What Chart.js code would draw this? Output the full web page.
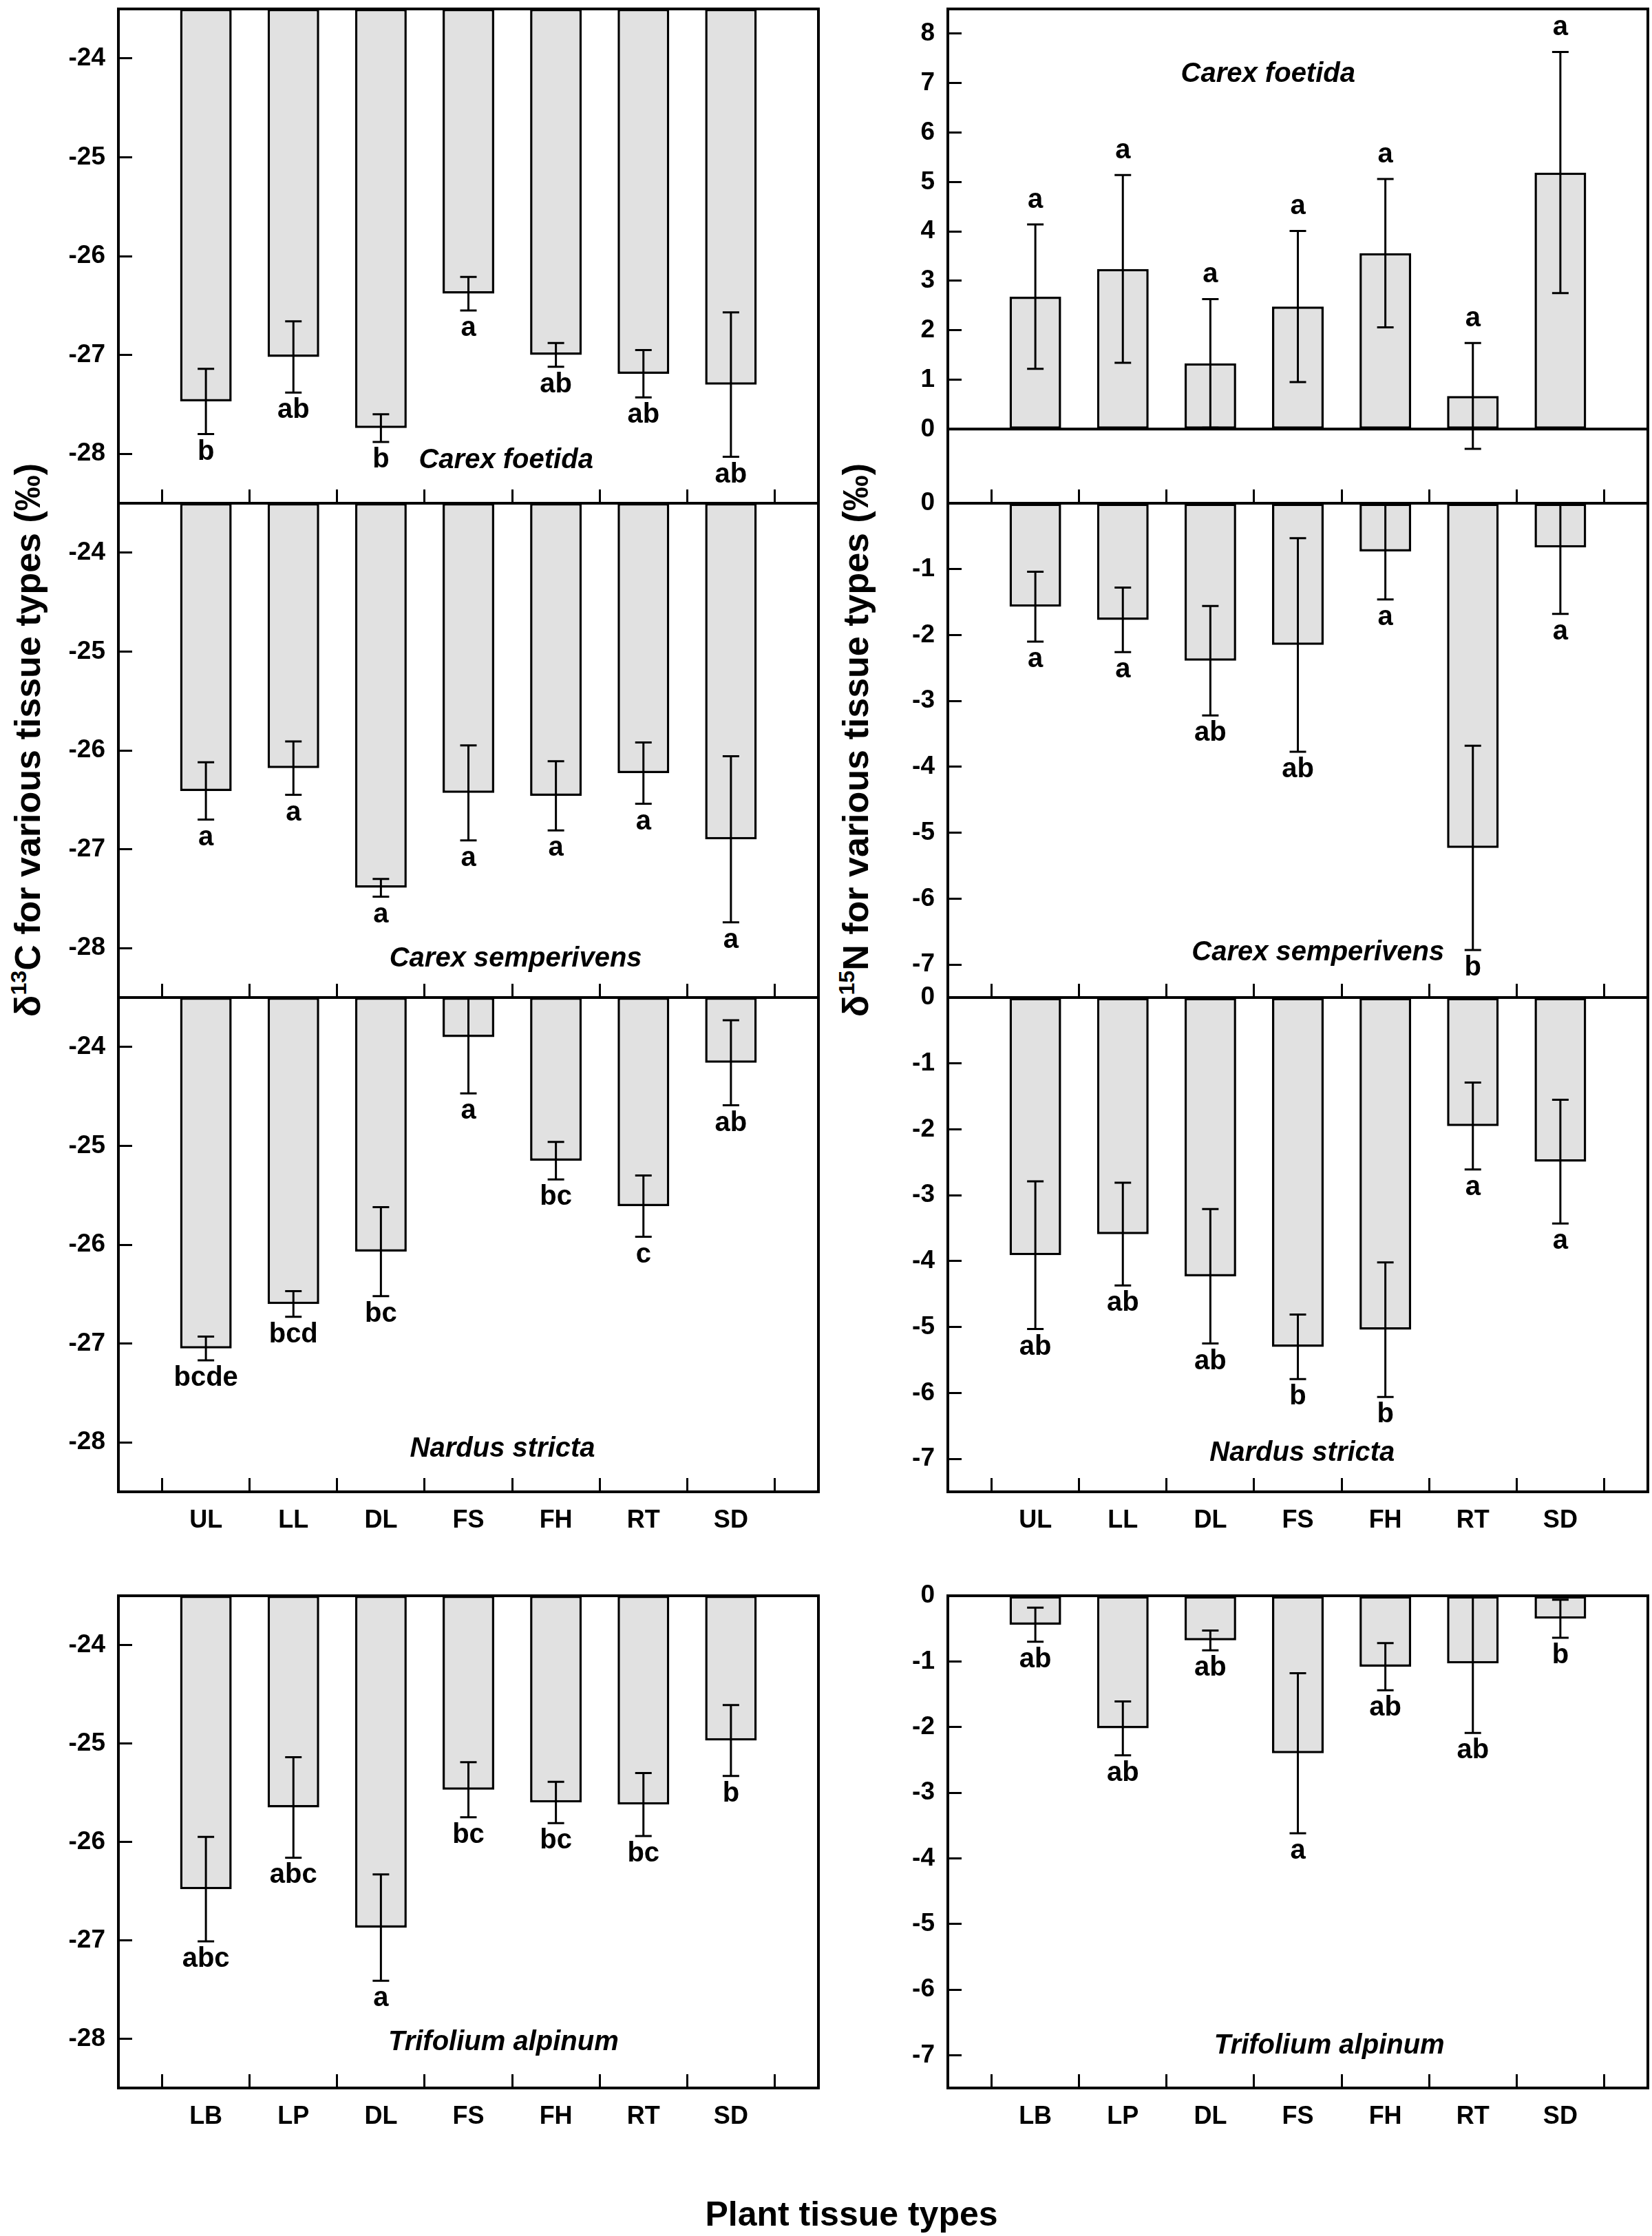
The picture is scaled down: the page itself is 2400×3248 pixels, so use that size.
<!DOCTYPE html>
<html>
<head>
<meta charset="utf-8">
<script src="https://cdn.jsdelivr.net/npm/chart.js@4.4.0/dist/chart.umd.min.js"></script>
<style>
  html, body { margin: 0; padding: 0; background: #fff; }
  #fig { position: relative; width: 2400px; height: 3248px; overflow: hidden;
         font-family: 'Liberation Sans', Arial, sans-serif; color: #000; }
  #fig canvas { position: absolute; }
  .ytitle { position: absolute; white-space: nowrap; font-weight: bold; font-size: 52px;
            transform: translate(-50%, -50%) rotate(-90deg); }
  .ytitle sup { font-size: 0.62em; vertical-align: 0.62em; line-height: 0; }
  #xtitle { position: absolute; left: 1237px; top: 3216px; transform: translate(-50%, -50%);
            font-weight: bold; font-size: 50px; white-space: nowrap; }
</style>
</head>
<body>
<div id="fig">
  <div class="ytitle" style="left:40px; top:1075px">&delta;<sup>13</sup>C for various tissue types (&permil;)</div>
  <div class="ytitle" style="left:1243px; top:1075px">&delta;<sup>15</sup>N for various tissue types (&permil;)</div>
  <div id="xtitle">Plant tissue types</div>
</div>
<script>
// --- dados ---
const tissuesGrass = ['UL', 'LL', 'DL', 'FS', 'FH', 'RT', 'SD'];
const tissuesTrifolium = ['LB', 'LP', 'DL', 'FS', 'FH', 'RT', 'SD'];

const c13Ticks = [-24, -25, -26, -27, -28];
const n15TicksTop = [0, 1, 2, 3, 4, 5, 6, 7, 8];
const n15Ticks = [0, -1, -2, -3, -4, -5, -6, -7];

// delta 13C (media, erro padrao, letras)
const c13Foetida = [-27.47, -27.02, -27.74, -26.38, -27.00, -27.19, -27.30];
const c13FoetidaSE = [0.33, 0.36, 0.14, 0.17, 0.12, 0.24, 0.73];
const c13FoetidaSig = ['b', 'ab', 'b', 'a', 'ab', 'ab', 'ab'];

const c13Semper = [-26.41, -26.18, -27.39, -26.43, -26.46, -26.23, -26.90];
const c13SemperSE = [0.29, 0.27, 0.09, 0.48, 0.35, 0.31, 0.84];
const c13SemperSig = ['a', 'a', 'a', 'a', 'a', 'a', 'a'];

const c13Nardus = [-27.05, -26.60, -26.07, -23.90, -25.15, -25.61, -24.16];
const c13NardusSE = [0.12, 0.13, 0.45, 0.57, 0.19, 0.31, 0.43];
const c13NardusSig = ['bcde', 'bcd', 'bc', 'a', 'bc', 'c', 'ab'];

const c13Trifolium = [-26.48, -25.65, -26.87, -25.47, -25.60, -25.62, -24.97];
const c13TrifoliumSE = [0.53, 0.51, 0.54, 0.28, 0.21, 0.32, 0.36];
const c13TrifoliumSig = ['abc', 'abc', 'a', 'bc', 'bc', 'bc', 'b'];

// delta 15N
const n15Foetida = [2.68, 3.24, 1.33, 2.48, 3.56, 0.67, 5.19];
const n15FoetidaSE = [1.46, 1.90, 1.30, 1.53, 1.50, 1.07, 2.44];
const n15FoetidaSig = ['a', 'a', 'a', 'a', 'a', 'a', 'a'];

const n15Semper = [-1.57, -1.77, -2.39, -2.15, -0.73, -5.23, -0.67];
const n15SemperSE = [0.53, 0.49, 0.83, 1.62, 0.73, 1.55, 1.01];
const n15SemperSig = ['a', 'a', 'ab', 'ab', 'a', 'b', 'a'];

const n15Nardus = [-3.91, -3.59, -4.23, -5.30, -5.04, -1.95, -2.49];
const n15NardusSE = [1.12, 0.78, 1.02, 0.49, 1.02, 0.66, 0.94];
const n15NardusSig = ['ab', 'ab', 'ab', 'b', 'b', 'a', 'a'];

const n15Trifolium = [-0.44, -2.02, -0.68, -2.40, -1.08, -1.03, -0.35];
const n15TrifoliumSE = [0.26, 0.41, 0.15, 1.22, 0.36, 1.06, 0.29];
const n15TrifoliumSig = ['ab', 'ab', 'ab', 'a', 'ab', 'ab', 'b'];

// --- layout ---
const FONT = "'Liberation Sans', Arial, sans-serif";
Chart.defaults.font.family = FONT;
Chart.defaults.color = '#000';

const FRAME_W = 1017, AXW = 170, PAD = 4, TOP_PAD = 30;
const ROW_TOP = [13, 731, 1449, 2318];
const ROW_H = [718, 718, 718, 715];
const COL_X = [172, 1377];
const fig = document.getElementById('fig');

// barras de erro, letras, nome da especie e moldura
function panelExtras(cfg) {
    return {
        id: 'panelExtras',
        afterDatasetsDraw(chart) {
            const { ctx, chartArea: a, scales: { x, y } } = chart;
            ctx.save();
            ctx.strokeStyle = '#000';
            ctx.fillStyle = '#000';

            // linha do zero dentro do painel
            if (y.min < 0 && y.max > 0) {
                const y0 = y.getPixelForValue(0);
                ctx.lineWidth = 4;
                ctx.beginPath();
                ctx.moveTo(a.left, y0);
                ctx.lineTo(a.right, y0);
                ctx.stroke();
            }

            ctx.lineWidth = 3;
            ctx.font = 'bold 40px ' + FONT;
            ctx.textAlign = 'center';
            cfg.values.forEach((v, i) => {
                const px = x.getPixelForValue(i + 1);
                let hi = y.getPixelForValue(v + cfg.se[i]);
                let lo = y.getPixelForValue(v - cfg.se[i]);
                const hiCut = hi < a.top, loCut = lo > a.bottom;
                if (hiCut) hi = a.top;
                if (loCut) lo = a.bottom;
                ctx.beginPath();
                ctx.moveTo(px, hi);
                ctx.lineTo(px, lo);
                if (!hiCut) { ctx.moveTo(px - 12, hi); ctx.lineTo(px + 12, hi); }
                if (!loCut) { ctx.moveTo(px - 12, lo); ctx.lineTo(px + 12, lo); }
                ctx.stroke();

                if (cfg.sigUp) {
                    ctx.textBaseline = 'alphabetic';
                    ctx.fillText(cfg.sig[i], px, hi - 24);
                } else {
                    ctx.textBaseline = 'top';
                    ctx.fillText(cfg.sig[i], px, lo + 6);
                }
            });

            ctx.font = 'italic bold 40px ' + FONT;
            ctx.textBaseline = 'middle';
            ctx.fillText(cfg.species, x.getPixelForValue(cfg.speciesAt[0]), y.getPixelForValue(cfg.speciesAt[1]));

            ctx.lineWidth = 4;
            ctx.strokeRect(a.left, a.top, a.right - a.left, a.bottom - a.top);
            ctx.restore();
        }
    };
}

function makePanel(cfg) {
    const xh = cfg.showLabels ? 90 : PAD;
    const w = AXW + FRAME_W + PAD;
    const h = TOP_PAD + ROW_H[cfg.row] + xh;
    const canvas = document.createElement('canvas');
    canvas.width = w;
    canvas.height = h;
    canvas.style.width = w + 'px';
    canvas.style.height = h + 'px';
    canvas.style.left = (COL_X[cfg.col] - AXW) + 'px';
    canvas.style.top = (ROW_TOP[cfg.row] - TOP_PAD) + 'px';
    fig.appendChild(canvas);

    new Chart(canvas, {
        type: 'bar',
        data: {
            datasets: [{
                data: cfg.values.map((v, i) => ({ x: i + 1, y: v })),
                base: cfg.base,
                backgroundColor: '#e1e1e1',
                borderColor: '#000',
                borderWidth: 3.5,
                borderSkipped: false,
                barPercentage: 0.59,
                categoryPercentage: 1
            }]
        },
        options: {
            responsive: false,
            animation: false,
            devicePixelRatio: 1,
            events: [],
            layout: { padding: { top: TOP_PAD, right: PAD, left: 0, bottom: 0 } },
            plugins: { legend: { display: false }, tooltip: { enabled: false } },
            scales: {
                x: {
                    type: 'linear', min: 0, max: 8, offset: false,
                    border: { display: false },
                    grid: { drawOnChartArea: false, drawTicks: true, tickLength: -20, tickWidth: 3, tickColor: '#000' },
                    afterBuildTicks: s => { s.ticks = cfg.labels.map((_, i) => ({ value: i + 1 })); },
                    afterFit: s => { s.height = xh; s.paddingLeft = 0; s.paddingRight = 0; },
                    ticks: {
                        display: cfg.showLabels, autoSkip: false, maxRotation: 0, padding: 40,
                        font: { size: 36, weight: 'bold' },
                        callback: v => cfg.labels[v - 1]
                    }
                },
                y: {
                    type: 'linear', min: cfg.min, max: cfg.max,
                    border: { display: false },
                    grid: { drawOnChartArea: false, drawTicks: true, tickLength: -20, tickWidth: 3, tickColor: '#000' },
                    afterBuildTicks: s => { s.ticks = cfg.ticks.map(v => ({ value: v })); },
                    afterFit: s => { s.width = AXW; s.paddingTop = 0; s.paddingBottom = 0; },
                    ticks: { autoSkip: false, padding: 39, font: { size: 37, weight: 'bold' } }
                }
            }
        },
        plugins: [panelExtras(cfg)]
    });
}

const c13Range = { min: -28.5, max: -23.5, base: -23.5, ticks: c13Ticks };
const n15Range = { min: -7.5, max: 0, base: 0, ticks: n15Ticks };

makePanel({ col: 0, row: 0, ...c13Range, labels: tissuesGrass, values: c13Foetida, se: c13FoetidaSE, sig: c13FoetidaSig,
            species: 'Carex foetida', speciesAt: [4.43, -28.07] });
makePanel({ col: 0, row: 1, ...c13Range, labels: tissuesGrass, values: c13Semper, se: c13SemperSE, sig: c13SemperSig,
            species: 'Carex semperivens', speciesAt: [4.54, -28.11] });
makePanel({ col: 0, row: 2, ...c13Range, labels: tissuesGrass, values: c13Nardus, se: c13NardusSE, sig: c13NardusSig,
            species: 'Nardus stricta', speciesAt: [4.39, -28.07], showLabels: true });
makePanel({ col: 0, row: 3, ...c13Range, labels: tissuesTrifolium, values: c13Trifolium, se: c13TrifoliumSE, sig: c13TrifoliumSig,
            species: 'Trifolium alpinum', speciesAt: [4.40, -28.04], showLabels: true });

makePanel({ col: 1, row: 0, min: -1.5, max: 8.5, base: 0, ticks: n15TicksTop, labels: tissuesGrass,
            values: n15Foetida, se: n15FoetidaSE, sig: n15FoetidaSig, sigUp: true,
            species: 'Carex foetida', speciesAt: [3.66, 7.18] });
makePanel({ col: 1, row: 1, ...n15Range, labels: tissuesGrass, values: n15Semper, se: n15SemperSE, sig: n15SemperSig,
            species: 'Carex semperivens', speciesAt: [4.23, -6.82] });
makePanel({ col: 1, row: 2, ...n15Range, labels: tissuesGrass, values: n15Nardus, se: n15NardusSE, sig: n15NardusSig,
            species: 'Nardus stricta', speciesAt: [4.05, -6.91], showLabels: true });
makePanel({ col: 1, row: 3, ...n15Range, labels: tissuesTrifolium, values: n15Trifolium, se: n15TrifoliumSE, sig: n15TrifoliumSig,
            species: 'Trifolium alpinum', speciesAt: [4.36, -6.86], showLabels: true });
</script>
</body>
</html>
